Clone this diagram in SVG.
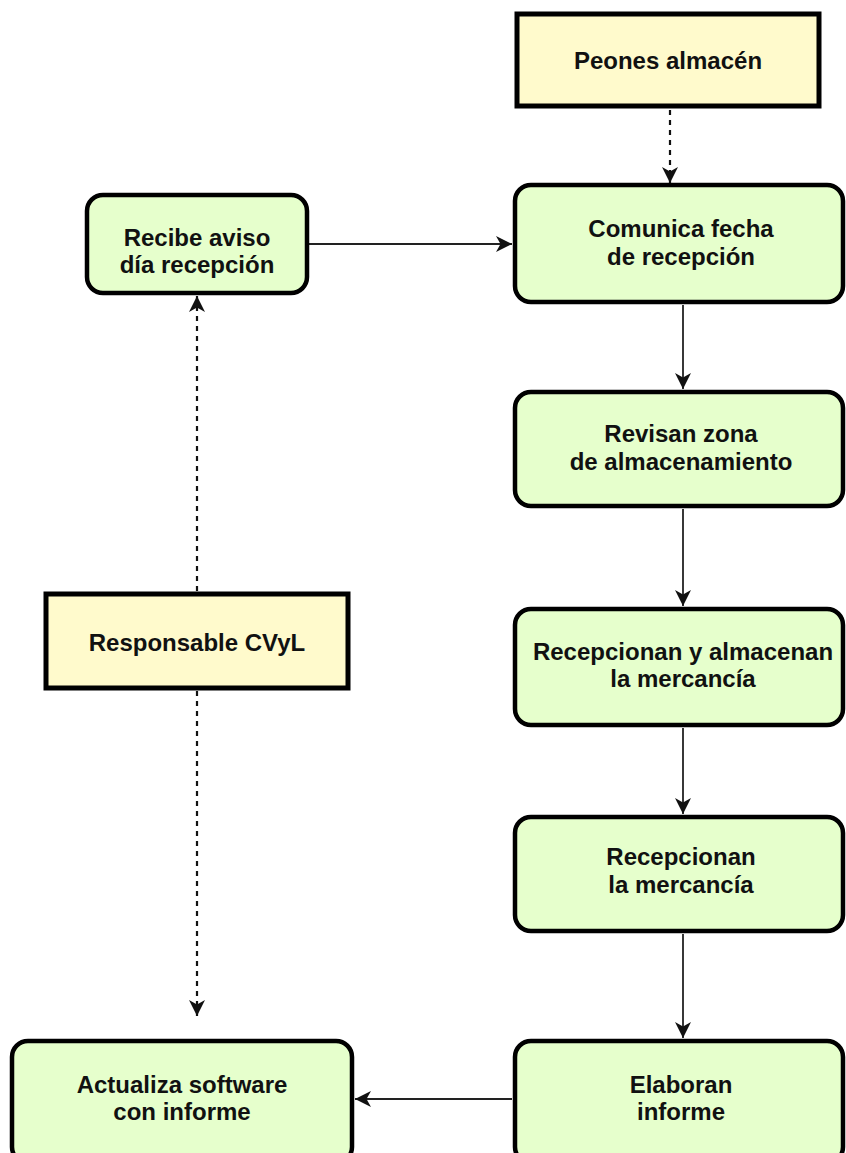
<svg xmlns="http://www.w3.org/2000/svg" width="846" height="1153" viewBox="0 0 846 1153">
<style>
.g{fill:#E6FFCC;stroke:#000;stroke-width:4.5}
.y{fill:#FFFACC;stroke:#000;stroke-width:5}
.t{font-family:"Liberation Sans",Arial,sans-serif;font-weight:bold;font-size:24px;fill:#111;text-anchor:middle}
.c{fill:none;stroke:#222;stroke-width:1.8}
.d{fill:none;stroke:#111;stroke-width:2.2;stroke-dasharray:5,5}
</style>
<defs>
<marker id="a" markerUnits="userSpaceOnUse" markerWidth="18" markerHeight="16" refX="16" refY="8" orient="auto">
<path d="M0,0 L16,8 L0,16 L4.5,8 z" fill="#111"/>
</marker>
</defs>
<rect width="846" height="1153" fill="#fff"/>
<g id="connectors">
<path class="d" d="M670,110 L670,183" marker-end="url(#a)"/>
<path class="c" d="M309,244 L512,244" marker-end="url(#a)"/>
<path class="c" d="M683,305 L683,389" marker-end="url(#a)"/>
<path class="c" d="M683,509 L683,606" marker-end="url(#a)"/>
<path class="c" d="M683,728 L683,814" marker-end="url(#a)"/>
<path class="c" d="M683,934 L683,1038" marker-end="url(#a)"/>
<path class="c" d="M512,1099 L355,1099" marker-end="url(#a)"/>
<path class="d" d="M197,591 L197,296" marker-end="url(#a)"/>
<path class="d" d="M197,691 L197,1016" marker-end="url(#a)"/>
</g>
<g id="peones">
<rect class="y" x="517" y="14" width="302" height="92"/>
<text class="t" x="668" y="69">Peones almacén</text>
</g>
<g id="comunica">
<rect class="g" x="515" y="185" width="328" height="117" rx="16"/>
<text class="t" x="681" y="237">Comunica fecha</text>
<text class="t" x="681" y="265">de recepción</text>
</g>
<g id="recibe">
<rect class="g" x="87" y="195" width="220" height="98" rx="16"/>
<text class="t" x="197" y="246">Recibe aviso</text>
<text class="t" x="197" y="273">día recepción</text>
</g>
<g id="revisan">
<rect class="g" x="515" y="392" width="328" height="114" rx="16"/>
<text class="t" x="681" y="442">Revisan zona</text>
<text class="t" x="681" y="470">de almacenamiento</text>
</g>
<g id="responsable">
<rect class="y" x="46" y="594" width="302" height="94"/>
<text class="t" x="197" y="651">Responsable CVyL</text>
</g>
<g id="recep-almac">
<rect class="g" x="515" y="609" width="328" height="116" rx="16"/>
<text class="t" x="683" y="660">Recepcionan y almacenan</text>
<text class="t" x="683" y="687">la mercancía</text>
</g>
<g id="recepcionan">
<rect class="g" x="515" y="817" width="328" height="114" rx="16"/>
<text class="t" x="681" y="865">Recepcionan</text>
<text class="t" x="681" y="893">la mercancía</text>
</g>
<g id="elaboran">
<rect class="g" x="515" y="1041" width="328" height="122" rx="16"/>
<text class="t" x="681" y="1093">Elaboran</text>
<text class="t" x="681" y="1120">informe</text>
</g>
<g id="actualiza">
<rect class="g" x="12" y="1041" width="340" height="122" rx="16"/>
<text class="t" x="182" y="1093">Actualiza software</text>
<text class="t" x="182" y="1120">con informe</text>
</g>
</svg>
